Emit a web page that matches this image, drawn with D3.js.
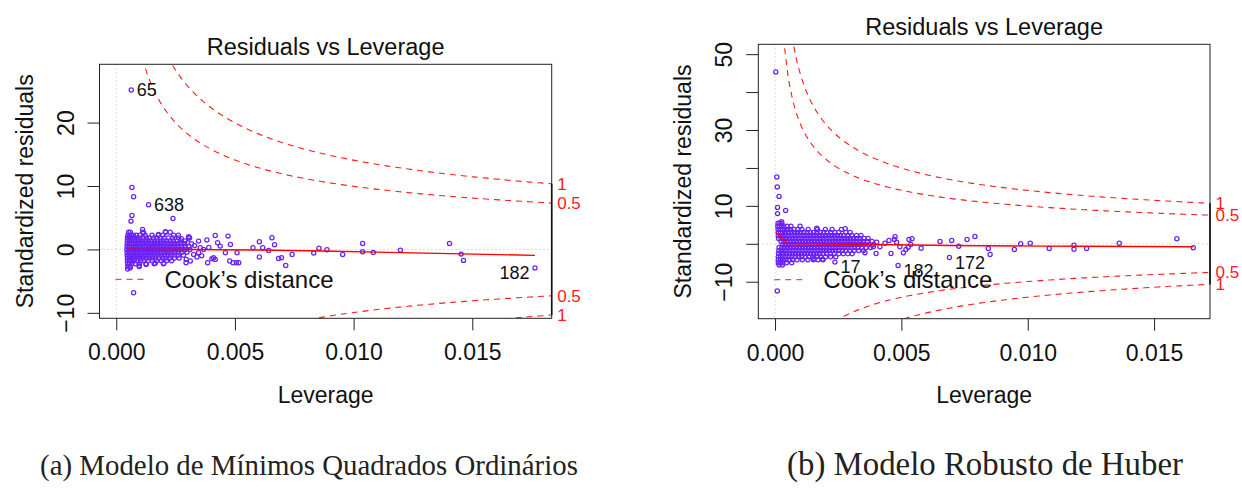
<!DOCTYPE html>
<html>
<head>
<meta charset="utf-8">
<script src="https://cdn.jsdelivr.net/npm/d3@7"></script>
<style>
  body { margin: 0; background: #fff; }
  svg { display: block; }
  text { font-family: "Liberation Sans", Arial, sans-serif; }
</style>
</head>
<body>
<svg id="chart" width="1242" height="493"></svg>
<script>
// DATA

// Panel (a): OLS model, isolated points [leverage, standardized residual]
const olsPoints = [
  [0.000632, 25.15], [0.00066, 9.76], [0.00073, 8.3], [0.00136, 7.04], [0.00066, 5.35],
  [0.00062, 4.46], [0.00239, 4.88], [0.00073, -6.82], [0.01764, -2.91],
  [0.00111, 3.15], [0.00115, 2.62], [0.00178, 2.36], [0.00207, 2.78], [0.00274, 1.68], [0.00309, 1.84],
  [0.00059, -2.89], [0.00097, -2.62], [0.00126, -2.36], [0.00164, -2.2], [0.002, -2.2], [0.00294, -2.1],
  [0.00403, -1.47], [0.00305, 2.0], [0.003, 1.05], [0.00312, -1.84], [0.00295, -1.57], [0.00326, -0.79],
  [0.00347, 1.31], [0.00382, 1.47], [0.00417, 2.2], [0.00427, 1.05], [0.00438, 0.52], [0.00471, 2.1],
  [0.00481, 0.79], [0.0046, -0.52], [0.00385, -2.1], [0.0041, -1.31], [0.00417, -1.57], [0.00478, -1.84],
  [0.00492, -2.1], [0.00506, -2.1], [0.00516, -2.1], [0.00509, -0.52], [0.00347, -0.52], [0.00368, 0],
  [0.00354, 0.26], [0.0033, 0.6], [0.0036, -1.0], [0.0039, 0.3], [0.0034, -1.2],
  [0.00576, 0.26], [0.00603, 1.21], [0.00617, 0.26], [0.00656, 1.84], [0.00667, 0.73], [0.00642, -0.16],
  [0.00603, -1.21], [0.00684, -1.42], [0.00696, -1.31], [0.00714, -2.52],
  [0.00741, -0.79], [0.00832, -0.58], [0.00854, 0.2], [0.00888, -0.05], [0.00954, -0.79], [0.01038, 0.94],
  [0.01038, -0.37], [0.01083, -0.47], [0.01197, -0.11], [0.01404, 0.94], [0.01453, -0.74], [0.01463, -1.73]
]
// Panel (a): dense cloud, one row per residual level: [residual, [leverages]]
const olsCloud = [
  [2.7, [0.00052, 0.00059, 0.00112, 0.00208, 0.00227]],
  [2.25, [0.00049, 0.00056, 0.00063, 0.00072, 0.00084, 0.00099, 0.00122, 0.00151, 0.00177, 0.00196, 0.00241, 0.00262]],
  [1.8, [0.00047, 0.00054, 0.0006, 0.00068, 0.00077, 0.00088, 0.001, 0.00113, 0.00127, 0.0014, 0.00156, 0.00171, 0.00186, 0.00203, 0.0022, 0.00237, 0.00262, 0.00306]],
  [1.35, [0.00047, 0.00056, 0.00066, 0.00077, 0.00088, 0.00099, 0.00111, 0.00123, 0.00135, 0.00147, 0.0016, 0.00173, 0.00187, 0.002, 0.00213, 0.00227, 0.0024, 0.00256, 0.00272, 0.0029]],
  [0.9, [0.00046, 0.00054, 0.00063, 0.00072, 0.00082, 0.00093, 0.00104, 0.00115, 0.00127, 0.00138, 0.0015, 0.00162, 0.00174, 0.00186, 0.00198, 0.0021, 0.00222, 0.00234, 0.00246, 0.00259, 0.00273, 0.00288, 0.00317]],
  [0.45, [0.00046, 0.00055, 0.00065, 0.00075, 0.00086, 0.00097, 0.00108, 0.00119, 0.0013, 0.00141, 0.00152, 0.00163, 0.00175, 0.00187, 0.00199, 0.00211, 0.00223, 0.00235, 0.00247, 0.0026, 0.00274, 0.0029, 0.00306]],
  [0, [0.00045, 0.00053, 0.00062, 0.00072, 0.00083, 0.00094, 0.00105, 0.00116, 0.00127, 0.00138, 0.00149, 0.0016, 0.00171, 0.00182, 0.00193, 0.00204, 0.00215, 0.00226, 0.00237, 0.00249, 0.00262, 0.00276, 0.00292, 0.0031]],
  [-0.45, [0.00046, 0.00055, 0.00064, 0.00074, 0.00085, 0.00096, 0.00107, 0.00118, 0.00129, 0.0014, 0.00151, 0.00162, 0.00174, 0.00186, 0.00198, 0.0021, 0.00222, 0.00234, 0.00247, 0.00261, 0.00277, 0.00298]],
  [-0.9, [0.00046, 0.00054, 0.00063, 0.00073, 0.00084, 0.00095, 0.00107, 0.00119, 0.00131, 0.00143, 0.00155, 0.00167, 0.00179, 0.00191, 0.00204, 0.00217, 0.0023, 0.00245, 0.00262, 0.00283]],
  [-1.35, [0.00047, 0.00056, 0.00066, 0.00077, 0.00089, 0.00101, 0.00113, 0.00126, 0.00139, 0.00152, 0.00166, 0.0018, 0.00195, 0.0021, 0.00227, 0.00245, 0.00265]],
  [-1.8, [0.00047, 0.00055, 0.00064, 0.00075, 0.00088, 0.00103, 0.00118, 0.00135, 0.00152, 0.0017, 0.0019, 0.00212, 0.00233]],
  [-2.25, [0.00048, 0.00056, 0.00066, 0.0008, 0.00098, 0.00125, 0.0016, 0.00199]],
  [-2.7, [0.00049, 0.00058, 0.00097]],
  [-3.1, [0.00048]]
]
const olsSmooth = [[0.00046, 0.02], [0.0015, 0], [0.003, -0.02], [0.006, -0.1], [0.0087, -0.26], [0.012, -0.5], [0.01764, -0.94]]
const olsLabels = [
  { id: '65', lev: 0.000632, res: 25.15 },
  { id: '638', lev: 0.00136, res: 7.04 },
  { id: '182', lev: 0.01764, res: -2.91 }
]

// Panel (b): Huber model
const hubPoints = [
  [0.00003, 45.3], [0.00007, 17.6], [0.00009, 15.0], [0.00016, 12.5], [0.0001, 9.6], [0.0001, 7.96],
  [0.00042, 8.8], [0.00026, 5.8], [0.00009, -12.45],
  [0.00165, 4.1], [0.00278, 4.0], [0.00237, -4.83], [0.00154, -3.9], [0.00187, -4.1], [0.00487, -5.7], [0.0069, -3.6],
  [0.00402, 0.42], [0.00415, -0.79], [0.00435, 0.16], [0.00451, 0.87], [0.00459, -2.55], [0.00475, 1.84],
  [0.00481, 0.42], [0.00494, -0.79], [0.00508, -2.37], [0.0053, 1.13], [0.00537, -0.18], [0.00542, 1.31],
  [0.004, -2.55], [0.00356, -2.37], [0.00389, -0.79], [0.00518, -1.5], [0.00527, -0.89], [0.00578, -1.16], [0.00472, 1.13],
  [0.00653, 0.6], [0.00699, 0.87], [0.00727, -0.63], [0.0076, 1.13], [0.00791, 1.92], [0.00844, -1.23],
  [0.00851, -2.81], [0.00947, -1.5], [0.00972, 0], [0.0101, 0.16], [0.01085, -1.23], [0.01183, -0.37],
  [0.01183, -1.42], [0.01233, -1.23], [0.01362, 0.16], [0.0159, 1.31], [0.01655, -1.05]
]
const hubCloud = [
  [5.4, [0.00012, 0.00019, 0.00027]],
  [4.6, [0.00011, 0.00018, 0.00026, 0.00035, 0.00047, 0.00063, 0.00099]],
  [3.8, [0.00012, 0.0002, 0.00029, 0.00039, 0.0005, 0.00062, 0.00075, 0.0009, 0.00106, 0.00131, 0.00168, 0.00199, 0.00226, 0.00263]],
  [3.0, [0.00013, 0.00021, 0.0003, 0.00041, 0.00053, 0.00065, 0.00077, 0.00089, 0.00101, 0.00114, 0.00127, 0.0014, 0.00153, 0.00166, 0.00179, 0.00192, 0.00206, 0.0022, 0.00236, 0.00252, 0.0028, 0.00297]],
  [2.2, [0.00013, 0.00022, 0.00032, 0.00043, 0.00055, 0.00067, 0.00079, 0.00091, 0.00103, 0.00115, 0.00127, 0.00139, 0.00151, 0.00163, 0.00175, 0.00187, 0.00199, 0.00211, 0.00223, 0.00235, 0.00247, 0.00259, 0.00272, 0.00287, 0.00304, 0.00322, 0.0034]],
  [1.4, [0.00014, 0.00024, 0.00035, 0.00046, 0.00058, 0.0007, 0.00082, 0.00094, 0.00106, 0.00118, 0.0013, 0.00142, 0.00154, 0.00166, 0.00178, 0.0019, 0.00202, 0.00214, 0.00226, 0.00238, 0.0025, 0.00262, 0.00274, 0.00286, 0.00298, 0.0031, 0.00323, 0.00337, 0.00352, 0.00368]],
  [0.6, [0.00024, 0.00036, 0.00048, 0.0006, 0.00072, 0.00084, 0.00096, 0.00108, 0.0012, 0.00132, 0.00144, 0.00156, 0.00168, 0.0018, 0.00192, 0.00204, 0.00216, 0.00228, 0.0024, 0.00252, 0.00264, 0.00276, 0.00288, 0.003, 0.00312, 0.00324, 0.00337, 0.0035, 0.00366, 0.00384]],
  [-0.2, [0.0003, 0.00041, 0.00052, 0.00063, 0.00075, 0.00087, 0.00099, 0.00111, 0.00123, 0.00135, 0.00147, 0.00159, 0.00171, 0.00183, 0.00195, 0.00207, 0.00219, 0.00231, 0.00243, 0.00255, 0.00267, 0.00279, 0.00291, 0.00303, 0.00315, 0.00327, 0.0034, 0.00354, 0.00371, 0.0039]],
  [-1.0, [0.00016, 0.00027, 0.00038, 0.00049, 0.00061, 0.00073, 0.00085, 0.00097, 0.00109, 0.00121, 0.00133, 0.00145, 0.00157, 0.00169, 0.00181, 0.00193, 0.00205, 0.00217, 0.00229, 0.00241, 0.00253, 0.00265, 0.00277, 0.00289, 0.00301, 0.00314, 0.00328, 0.00343, 0.0036, 0.00378]],
  [-1.8, [0.00015, 0.00025, 0.00036, 0.00047, 0.00059, 0.00071, 0.00083, 0.00095, 0.00107, 0.00119, 0.00131, 0.00143, 0.00155, 0.00167, 0.00179, 0.00191, 0.00203, 0.00215, 0.00227, 0.00239, 0.00252, 0.00266, 0.0028, 0.00296, 0.00313, 0.00331, 0.0035]],
  [-2.6, [0.00014, 0.00024, 0.00034, 0.00045, 0.00057, 0.00069, 0.00081, 0.00093, 0.00105, 0.00117, 0.00129, 0.00141, 0.00153, 0.00165, 0.00177, 0.0019, 0.00204, 0.00219, 0.00235, 0.00252, 0.0027, 0.00288, 0.00305]],
  [-3.4, [0.00013, 0.00022, 0.00032, 0.00043, 0.00055, 0.00067, 0.0008, 0.00093, 0.00106, 0.0012, 0.00134, 0.00149, 0.00165, 0.00182, 0.002, 0.0022, 0.0024]],
  [-4.2, [0.00013, 0.00022, 0.00032, 0.00043, 0.00056, 0.0007, 0.00087, 0.00108, 0.0013, 0.00152, 0.0017, 0.0019]],
  [-5.0, [0.00013, 0.00021, 0.00031, 0.00045, 0.00066]],
  [-5.6, [0.00016, 0.00029]]
]
const hubSmooth = [[0.00003, 3.05], [0.0002, 1.84], [0.0004, 0.68], [0.00055, 0.05], [0.002, -0.05], [0.004, -0.2], [0.007, -0.45], [0.012, -0.65], [0.01655, -0.79]]
const hubLabels = [
  { id: '17', lev: 0.00237, res: -4.83 },
  { id: '182', lev: 0.00487, res: -5.7 },
  { id: '172', lev: 0.0069, res: -3.6 }
]

// Axis ticks and texts
const xTicks = [0, 0.005, 0.01, 0.015]
const olsYTicks = [-10, 0, 10, 20]
const olsYLabels = [-10, 0, 10, 20]
const hubYTicks = [-10, 0, 10, 20, 30, 40, 50]
const hubYLabels = [-10, 10, 30, 50]
const cookLevels = [0.5, 1]
const nParams = 2
const panelTitle = 'Residuals vs Leverage'
const xTitle = 'Leverage'
const yTitle = 'Standardized residuals'
const legendText = 'Cook\u2019s distance'
const captions = ['(a) Modelo de M\u00ednimos Quadrados Ordin\u00e1rios', '(b) Modelo Robusto de Huber']


// DRAWING

const svg = d3.select('#chart')
const ptColor = '#6a22f8'
const cookColor = '#ff1a1a'

function drawPanel(p, idx) {
  const box = p.box
  const g = svg.append('g')

  // all points: isolated ones + cloud rows
  const pts = p.points.concat(p.cloud.flatMap(([r, levs]) => levs.map(h => [h, r])))

  // limits as R's plot.lm does: x = [0, max] + 4%, y = range +8% then +4%
  const hMax = d3.max(pts, d => d[0])
  const x = d3.scaleLinear().domain([-hMax * 0.04, hMax * 1.04]).range([box.left, box.right])
  const [rMin, rMax] = d3.extent(pts, d => d[1])
  const lo = rMin - (rMax - rMin) * 0.08, hi = rMax + (rMax - rMin) * 0.08
  const y = d3.scaleLinear().domain([lo - (hi - lo) * 0.04, hi + (hi - lo) * 0.04]).range([box.bottom, box.top])

  const clipId = 'clip' + idx
  svg.append('clipPath').attr('id', clipId)
    .append('rect')
    .attr('x', box.left).attr('y', box.top)
    .attr('width', box.right - box.left).attr('height', box.bottom - box.top)

  const plot = g.append('g').attr('clip-path', `url(#${clipId})`)

  // dotted reference lines h=0 and v=0
  plot.append('line')
    .attr('x1', box.left).attr('x2', box.right).attr('y1', y(0)).attr('y2', y(0))
    .attr('stroke', '#bbb').attr('stroke-dasharray', '1,3')
  plot.append('line')
    .attr('x1', x(0)).attr('x2', x(0)).attr('y1', box.top).attr('y2', box.bottom)
    .attr('stroke', '#bbb').attr('stroke-dasharray', '1,3')

  // points
  plot.selectAll('circle.pt')
    .data(pts)
    .join('circle')
      .attr('class', 'pt')
      .attr('cx', d => x(d[0]))
      .attr('cy', d => y(d[1]))
      .attr('r', 2.1)
      .attr('fill', 'none')
      .attr('stroke', ptColor)
      .attr('stroke-width', 1.25)

  // smoother
  plot.append('path')
    .datum(p.smooth)
    .attr('d', d3.line().x(d => x(d[0])).y(d => y(d[1])).curve(d3.curveMonotoneX))
    .attr('fill', 'none').attr('stroke', 'red').attr('stroke-width', 1.4)

  // Cook's distance contours (as plot.lm draws them: r = +-sqrt(D p (1-h) / h))
  const h0 = hMax / 1000, h1 = x.domain()[1]
  const hh = d3.range(101).map(i => h0 + (h1 - h0) * i / 100)
  const cookLine = d3.line().x(d => x(d[0])).y(d => y(d[1]))
  for (const D of cookLevels) {
    for (const sgn of [1, -1]) {
      plot.append('path')
        .datum(hh.map(h => [h, sgn * Math.sqrt(D * nParams * (1 - h) / h)]))
        .attr('d', cookLine)
        .attr('fill', 'none').attr('stroke', cookColor).attr('stroke-width', 1.1)
        .attr('stroke-dasharray', '6,5')
    }
  }

  // box
  g.append('rect')
    .attr('x', box.left).attr('y', box.top)
    .attr('width', box.right - box.left).attr('height', box.bottom - box.top)
    .attr('fill', 'none').attr('stroke', '#222').attr('stroke-width', 1)

  // x axis
  const xa = g.append('g')
    .attr('transform', `translate(0,${box.bottom})`)
    .call(d3.axisBottom(x).tickValues(xTicks).tickSize(12).tickFormat(d3.format('.3f')))
  xa.select('.domain').remove()
  xa.selectAll('line').attr('stroke', '#222')
  xa.selectAll('text')
    .attr('y', 34).attr('dy', '0.35em')
    .style('font-size', '23px').attr('fill', '#111')
    .style('font-family', '"Liberation Sans", Arial, sans-serif')

  // y axis (labels parallel to the axis, like R)
  const ya = g.append('g')
    .attr('transform', `translate(${box.left},0)`)
    .call(d3.axisLeft(y).tickValues(p.yTicks).tickSize(12)
      .tickFormat(d => p.yLabels.includes(d) ? d3.format('d')(d) : ''))
  ya.select('.domain').remove()
  ya.selectAll('line').attr('stroke', '#222')
  ya.selectAll('text')
    .attr('x', null).attr('dy', '0.35em')
    .attr('text-anchor', 'middle')
    .attr('transform', 'translate(-34,0) rotate(-90)')
    .style('font-size', '23px').attr('fill', '#111')
    .style('font-family', '"Liberation Sans", Arial, sans-serif')

  // right axis with Cook's levels
  const aty = cookLevels.map(D => Math.sqrt(D * nParams * (1 - h1) / h1))
  g.append('line')
    .attr('x1', box.right).attr('x2', box.right)
    .attr('y1', y(-d3.max(aty))).attr('y2', y(d3.max(aty)))
    .attr('stroke', '#111').attr('stroke-width', 1.6)
  const levTicks = cookLevels.flatMap((D, i) => [{ D, v: aty[i] }, { D, v: -aty[i] }])
  g.selectAll('text.lev')
    .data(levTicks)
    .join('text')
      .attr('class', 'lev')
      .attr('x', box.right + 5.5)
      .attr('y', d => y(d.v))
      .attr('dy', '0.35em')
      .attr('fill', cookColor)
      .style('font-size', '17px')
      .text(d => String(d.D))

  // point labels (R: pos 4 on left half, pos 2 on right half, negatives nudged down)
  const xMid = d3.mean(x.domain())
  g.selectAll('text.id')
    .data(p.labels)
    .join('text')
      .attr('class', 'id')
      .attr('x', d => x(d.lev) + (d.lev > xMid ? -5.5 : 5.5))
      .attr('y', d => y(d.res) + (d.res < 0 ? 5 : 0))
      .attr('dy', '0.35em')
      .attr('text-anchor', d => d.lev > xMid ? 'end' : 'start')
      .style('font-size', '18px')
      .attr('fill', '#111')
      .text(d => d.id)

  // legend
  const ly = box.bottom - 39
  g.append('line')
    .attr('x1', box.left + 16).attr('x2', box.left + 47).attr('y1', ly).attr('y2', ly)
    .attr('stroke', cookColor).attr('stroke-dasharray', '6,5')
  g.append('text')
    .attr('x', box.left + 65).attr('y', ly).attr('dy', '0.36em')
    .style('font-size', '24px').attr('fill', '#111')
    .text(legendText)

  // titles
  const cx = (box.left + box.right) / 2
  g.append('text')
    .attr('x', cx).attr('y', box.top - 9.5)
    .attr('text-anchor', 'middle')
    .style('font-size', '23.5px').attr('fill', '#111')
    .text(panelTitle)
  g.append('text')
    .attr('x', cx).attr('y', 395).attr('dy', '0.35em')
    .attr('text-anchor', 'middle')
    .style('font-size', '23px').attr('fill', '#111')
    .text(xTitle)
  g.append('text')
    .attr('transform', `translate(${p.yTitleX},${(box.top + box.bottom) / 2}) rotate(-90)`)
    .attr('dy', '0.35em')
    .attr('text-anchor', 'middle')
    .style('font-size', '23px').attr('fill', '#111')
    .text(yTitle)

  // sub-figure caption (serif, fitted to the measured width)
  const cap = svg.append('text')
    .attr('x', p.caption.cx).attr('y', 475)
    .attr('text-anchor', 'middle')
    .style('font-family', '"Liberation Serif", "DejaVu Serif", serif')
    .style('font-size', '24px').attr('fill', '#222')
    .text(captions[idx])
  const w = cap.node().getComputedTextLength()
  cap.style('font-size', (24 * p.caption.width / w) + 'px')
}

const panels = [
  { points: olsPoints, cloud: olsCloud, smooth: olsSmooth, labels: olsLabels,
    yTicks: olsYTicks, yLabels: olsYLabels,
    box: { left: 99.5, right: 551.7, top: 64.3, bottom: 318.3 }, yTitleX: 25,
    caption: { cx: 309, width: 538 } },
  { points: hubPoints, cloud: hubCloud, smooth: hubSmooth, labels: hubLabels,
    yTicks: hubYTicks, yLabels: hubYLabels,
    box: { left: 758.3, right: 1210, top: 44.3, bottom: 318.7 }, yTitleX: 683,
    caption: { cx: 985, width: 396 } }
]

panels.forEach(drawPanel)
</script>
</body>
</html>
